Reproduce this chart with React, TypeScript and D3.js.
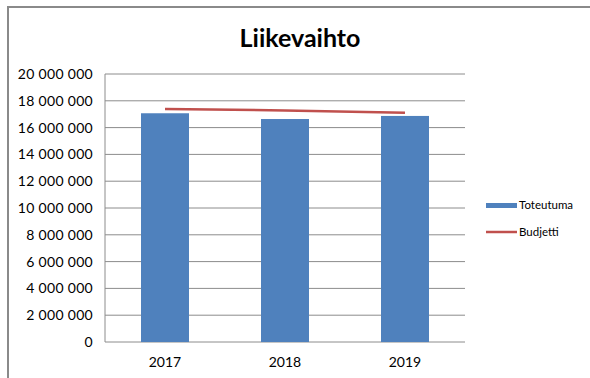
import React from "react";
import * as d3 from "d3";

const categories = ["2017", "2018", "2019"];
const toteutuma = [17070000, 16640000, 16870000];
const budjetti = [17390000, 17280000, 17110000];
const yTicks = [0, 2000000, 4000000, 6000000, 8000000, 10000000, 12000000, 14000000, 16000000, 18000000, 20000000];
const title = "Liikevaihto";
const legendLabels = ["Toteutuma", "Budjetti"];

const W = 590;
const H = 378;
const plot = { left: 105, right: 465, top: 74, bottom: 342 };
const font = "Lato, 'Open Sans', sans-serif";

const fmt = (v: number) => {
  if (v === 0) return "0";
  return d3.format(",")(v).replace(/,/g, " ");
};

export default function App() {
  const xc = d3.scaleBand<string>().domain(categories).range([plot.left, plot.right]);
  const y = d3.scaleLinear().domain([0, 20000000]).range([plot.bottom, plot.top]);
  const line = d3
    .line<number>()
    .x((_, i) => (xc(categories[i]) as number) + xc.bandwidth() / 2)
    .y((d) => y(d));
  const bw = xc.bandwidth() / 2.5;

  return (
    <svg width={W} height={H} style={{ position: "absolute", left: 0, top: 0 }}>
      <rect x={0} y={0} width={W} height={H} fill="#fff" />
      <path d={`M8,${H} L8,7 L${W},7`} fill="none" stroke="#8a8a8a" strokeWidth={2} />
      <text x={300} y={47} textAnchor="middle" fontFamily={font} fontWeight="bold" fontSize={25} fill="#000">
        {title}
      </text>
      {yTicks.map((t) => (
        <g key={t}>
          <line x1={plot.left} x2={plot.right} y1={y(t)} y2={y(t)} stroke="#8c8c8c" strokeWidth={1} />
          <text x={93} y={y(t) + 5} textAnchor="end" fontFamily={font} fontSize={14} letterSpacing={0.3} fill="#000">
            {fmt(t)}
          </text>
        </g>
      ))}
      <line x1={plot.left} x2={plot.left} y1={plot.top} y2={plot.bottom} stroke="#8c8c8c" strokeWidth={1} />
      {categories.map((c, i) => {
        const cx = (xc(c) as number) + xc.bandwidth() / 2;
        return (
          <g key={c}>
            <rect x={cx - bw / 2} y={y(toteutuma[i])} width={bw} height={y(0) - y(toteutuma[i])} fill="#4F81BD" />
            <text x={cx} y={367} textAnchor="middle" fontFamily={font} fontSize={14} fill="#000">
              {c}
            </text>
          </g>
        );
      })}
      <path d={line(budjetti) || ""} fill="none" stroke="#C0504D" strokeWidth={2.5} />
      <rect x={486} y={203} width={31} height={5} fill="#4F81BD" />
      <text x={519} y={209} fontFamily={font} fontSize={11.5} fill="#000">
        {legendLabels[0]}
      </text>
      <line x1={486} x2={517} y1={232} y2={232} stroke="#C0504D" strokeWidth={2.5} />
      <text x={519} y={236} fontFamily={font} fontSize={11.5} fill="#000">
        {legendLabels[1]}
      </text>
    </svg>
  );
}
